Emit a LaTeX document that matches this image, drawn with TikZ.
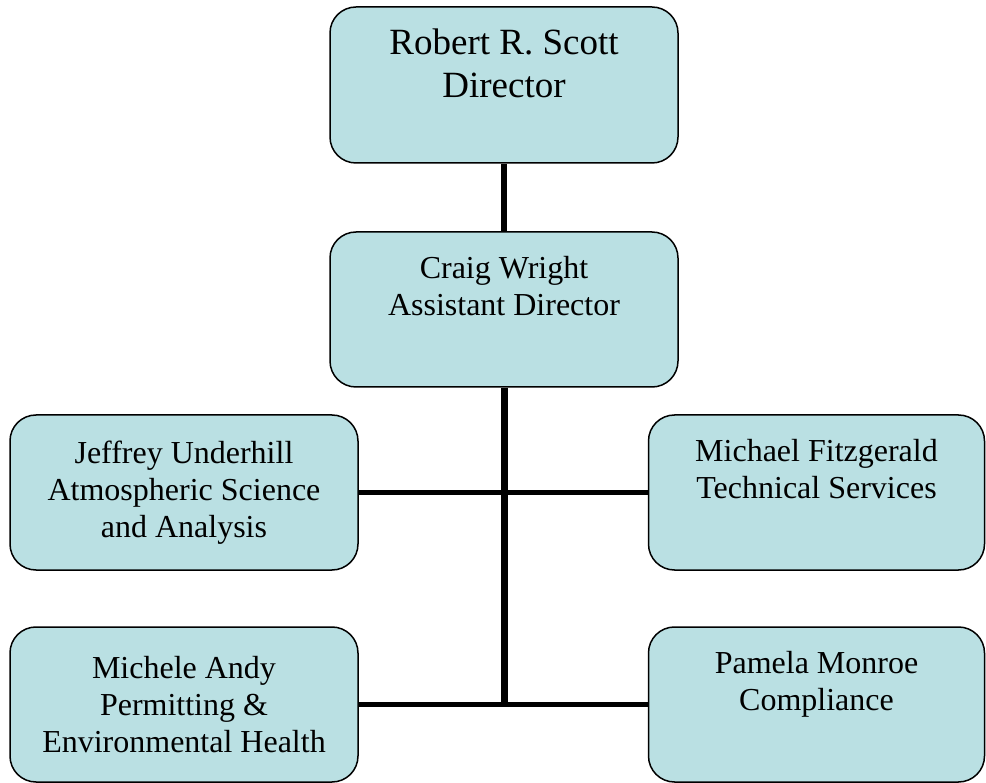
\documentclass[tikz,border=0pt]{standalone}
\usepackage{fontspec}
\setmainfont{Liberation Serif}
\definecolor{boxfill}{RGB}{186,224,227}
\tikzset{
  orgbox/.style={draw=black, line width=1.5pt, fill=boxfill, rounded corners=26pt,
                 align=center, inner sep=0pt, font=\fontsize{32}{37}\selectfont},
  bigbox/.style={orgbox, font=\fontsize{37}{43}\selectfont},
  link/.style={line width=6pt}
}

\begin{document}
\begin{tikzpicture}[x=1pt,y=-1pt]
  \useasboundingbox (0,0) rectangle (986,783);
  %boxes
  \node[bigbox, minimum width=348pt, minimum height=156pt] (dir) at (504,85)
    {Robert R. Scott\\Director\\[-12pt]\strut};
  \node[orgbox, minimum width=348pt, minimum height=155pt] (asst) at (504,309.5)
    {Craig Wright\\Assistant Director\\\strut};
  \node[orgbox, minimum width=348pt, minimum height=155pt] (atmo) at (184,492.5)
    {Jeffrey Underhill\\Atmospheric Science\\and Analysis};
  \node[orgbox, minimum width=336pt, minimum height=155pt] (tech) at (816.5,492.5)
    {Michael Fitzgerald\\Technical Services\\\strut};
  \node[orgbox, minimum width=348pt, minimum height=155pt] (perm) at (184,704.5)
    {Michele Andy\\Permitting \&\\Environmental Health};
  \node[orgbox, minimum width=336pt, minimum height=155pt] (comp) at (816.5,704.5)
    {Pamela Monroe\\Compliance\\\strut};
  %links
  \coordinate (trunk) at (asst.south |- perm.east);
  \draw[link] (dir.south) -- (asst.north);
  \draw[link, line width=7pt] (asst.south) -- (trunk);
  \draw[link, line width=5pt] (atmo.east) -- (tech.west);
  \draw[link, line width=5pt] (perm.east) -- (comp.west);
\end{tikzpicture}
\end{document}
